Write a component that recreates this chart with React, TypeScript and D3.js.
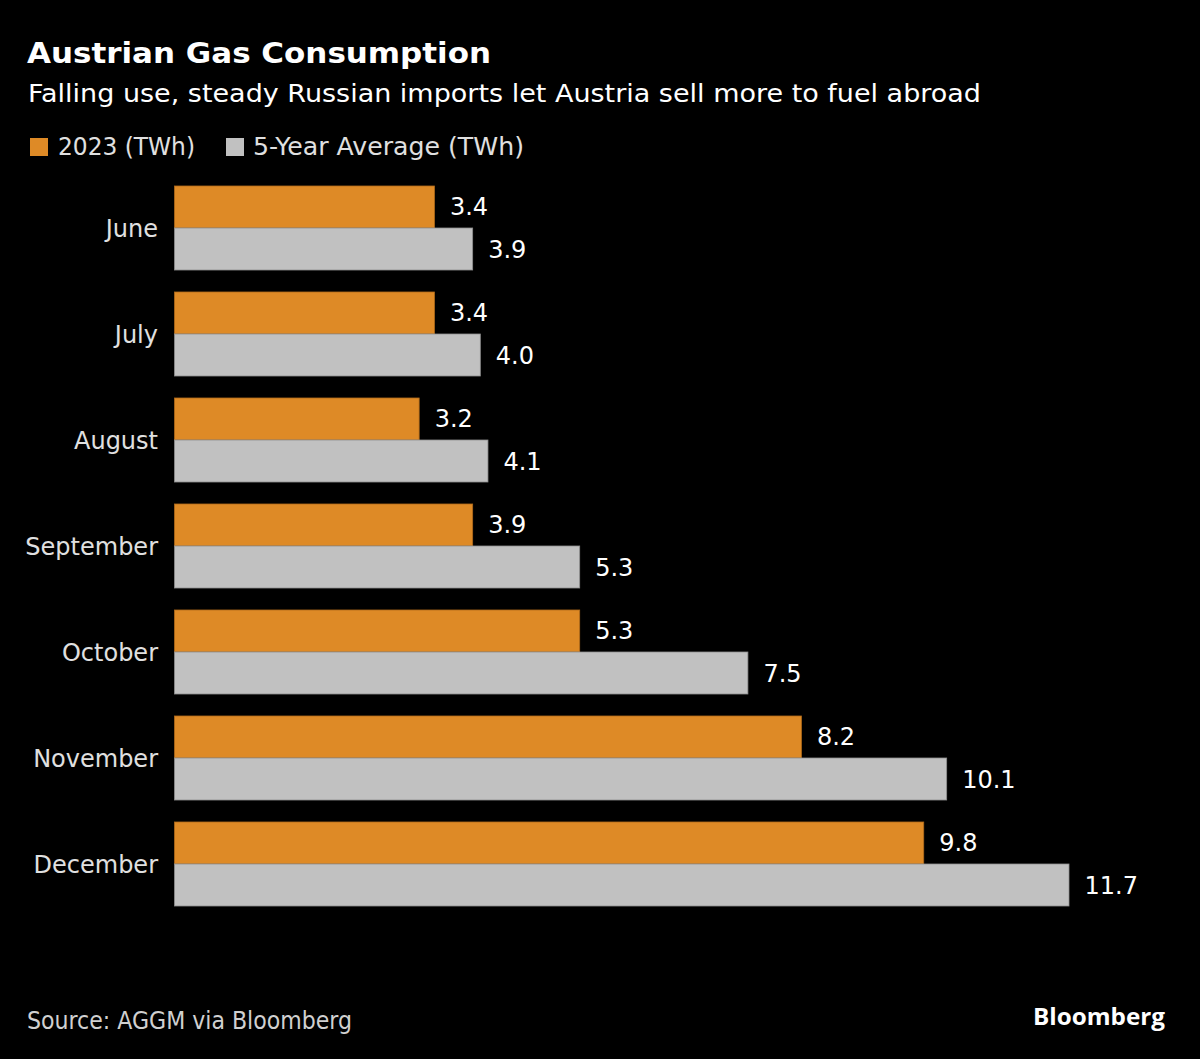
import React from "react";
import * as d3 from "d3";

const months = ["June", "July", "August", "September", "October", "November", "December"];
const values2023 = [3.4, 3.4, 3.2, 3.9, 5.3, 8.2, 9.8];
const avg5Year = [3.9, 4.0, 4.1, 5.3, 7.5, 10.1, 11.7];
const seriesNames = ["2023 (TWh)", "5-Year Average (TWh)"];
const seriesColors = ["#de8a26", "#c1c1c1"];

const W = 1200;
const H = 1059;
const FONT = "'DejaVu Sans', sans-serif";

export default function App() {
  const x = d3.scaleLinear().domain([0, 11.7]).range([174.5, 1069]);
  const y = d3.scaleBand<string>().domain(months).range([175, 917]).paddingInner(0.2075).paddingOuter(0.10375);
  const sub = d3.scaleBand<number>().domain([0, 1]).range([0, y.bandwidth()]);
  const series = [values2023, avg5Year];

  return (
    <svg width={W} height={H} style={{ position: "absolute", left: 0, top: 0, background: "#000" }}>
      <rect x={0} y={0} width={W} height={H} fill="#000" />
      <text x={27} y={63} fill="#fff" fontFamily={FONT} fontWeight="bold" fontSize={27.5} textLength={464} lengthAdjust="spacingAndGlyphs">
        Austrian Gas Consumption
      </text>
      <text x={28} y={102} fill="#fff" fontFamily={FONT} fontSize={24.5} textLength={953} lengthAdjust="spacingAndGlyphs">
        Falling use, steady Russian imports let Austria sell more to fuel abroad
      </text>
      {/* legend */}
      <rect x={30} y={138} width={18} height={18} fill={seriesColors[0]} />
      <text x={58} y={155} fill="#e0e0e0" fontFamily={FONT} fontSize={24} textLength={137} lengthAdjust="spacingAndGlyphs">
        {seriesNames[0]}
      </text>
      <rect x={226} y={138} width={18} height={18} fill={seriesColors[1]} />
      <text x={253} y={155} fill="#e0e0e0" fontFamily={FONT} fontSize={24} textLength={271} lengthAdjust="spacingAndGlyphs">
        {seriesNames[1]}
      </text>

      {months.map((m, i) => {
        const y0 = y(m)!;
        return (
          <g key={m}>
            <text
              x={158}
              y={y0 + y.bandwidth() / 2 + 9}
              textAnchor="end"
              fill="#e0e0e0"
              fontFamily={FONT}
              fontSize={24}
            >
              {m}
            </text>
            {series.map((s, k) => {
              const by = y0 + sub(k)!;
              const bh = sub.bandwidth();
              return (
                <g key={k}>
                  <rect
                    x={x(0)}
                    y={by}
                    width={x(s[i]) - x(0)}
                    height={bh}
                    fill={seriesColors[k]}
                    stroke={k === 0 ? "#b06a1a" : "#8e8e8e"}
                    strokeWidth={0.8}
                  />
                  <text
                    x={x(s[i]) + 15.5}
                    y={by + bh / 2 + 8.5}
                    fill="#fff"
                    fontFamily={FONT}
                    fontSize={24}
                  >
                    {s[i].toFixed(1)}
                  </text>
                </g>
              );
            })}
          </g>
        );
      })}

      <text x={27} y={1029} fill="#d0d0d0" fontFamily={FONT} fontSize={24} textLength={325} lengthAdjust="spacingAndGlyphs">
        Source: AGGM via Bloomberg
      </text>
      <text x={1033} y={1025} fill="#fff" fontFamily="'Open Sans', 'Liberation Sans', sans-serif" fontWeight="bold" fontSize={24} textLength={132} lengthAdjust="spacingAndGlyphs">
        Bloomberg
      </text>
    </svg>
  );
}
